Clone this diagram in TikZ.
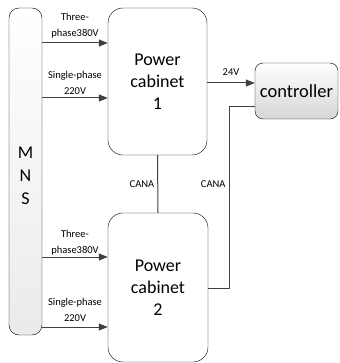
\documentclass[tikz,border=0pt]{standalone}
\usepackage{fontspec}
\setmainfont{Carlito}
\usetikzlibrary{arrows.meta}
\definecolor{wire}{HTML}{404040}
\tikzset{
  cabinet/.style={draw=black, rounded corners=15pt, fill=white, align=center,
    font=\fontsize{18}{22}\selectfont},
  arr/.style={draw=wire, line width=1pt, -{Triangle[length=9pt,width=7pt]}},
  wirel/.style={draw=wire, line width=1pt},
  lbl/.style={font=\fontsize{10.5}{16}\selectfont, align=center, inner sep=1pt}
}

\begin{document}
\begin{tikzpicture}[x=1pt, y=-1pt]
			%%%%% START %%%%%
			\useasboundingbox (0, 0) rectangle (339, 363);
			
			\node[draw=black, rounded corners=10pt, top color=white, bottom color=black!8,
			  minimum width=33pt, minimum height=327pt] (mns) at (25.5, 171.5) {};
			\node[align=center, font=\fontsize{18}{23}\selectfont] (mnsT) at ([yshift=-4pt]mns.center) {M\\N\\S};
			
			\node[cabinet, minimum width=99pt, minimum height=147pt] (pcA) at (157.5, 81.5) {Power\\cabinet\\1};
			\node[cabinet, minimum width=100pt, minimum height=149pt] (pcB) at (158, 287.5) {Power\\cabinet\\2};
			
			\node[draw=black, rounded corners=8pt, top color=white, bottom color=black!16,
			  minimum width=83pt, minimum height=56pt,
			  font=\fontsize{18.5}{22}\selectfont] (ctrl) at (296.5, 91) {controller};
			
			\coordinate (yA) at (0, 43);
			\coordinate (yB) at (0, 98);
			\coordinate (yC) at (0, 257);
			\coordinate (yD) at (0, 327);
			\coordinate (yE) at (0, 83);
			\coordinate (yF) at (0, 107);
			\coordinate (yG) at (0, 288);
			\coordinate (xH) at (229, 0);
			
			\draw[arr] (yA -| mns.east) -- node[lbl, above=3pt] (tA) {Three-\\phase380V} (yA -| pcA.west);
			\draw[arr] (yB -| mns.east) -- node[lbl, above=2pt] (tB) {Single-phase\\220V} (yB -| pcA.west);
			\draw[arr] (yC -| mns.east) -- node[lbl, above=0pt] (tC) {Three-\\phase380V} (yC -| pcB.west);
			\draw[arr] (yD -| mns.east) -- node[lbl, above=4pt] (tD) {Single-phase\\220V} (yD -| pcB.west);
			
			\draw[arr] (yE -| pcA.east) -- node[lbl, above=6pt] (tE) {24V} (yE -| ctrl.west);
			
			\draw[wirel] (pcA.south) -- node[lbl, pos=0.5, left=2pt] (tF) {CANA} (pcB.north);
			\draw[wirel] (yF -| ctrl.west) -- (yF -| xH) -- node[lbl, pos=0.425, left=2pt] (tG) {CANA} (yG -| xH) -- (yG -| pcB.east);
			%%%%% END %%%%%
\end{tikzpicture}
\end{document}
